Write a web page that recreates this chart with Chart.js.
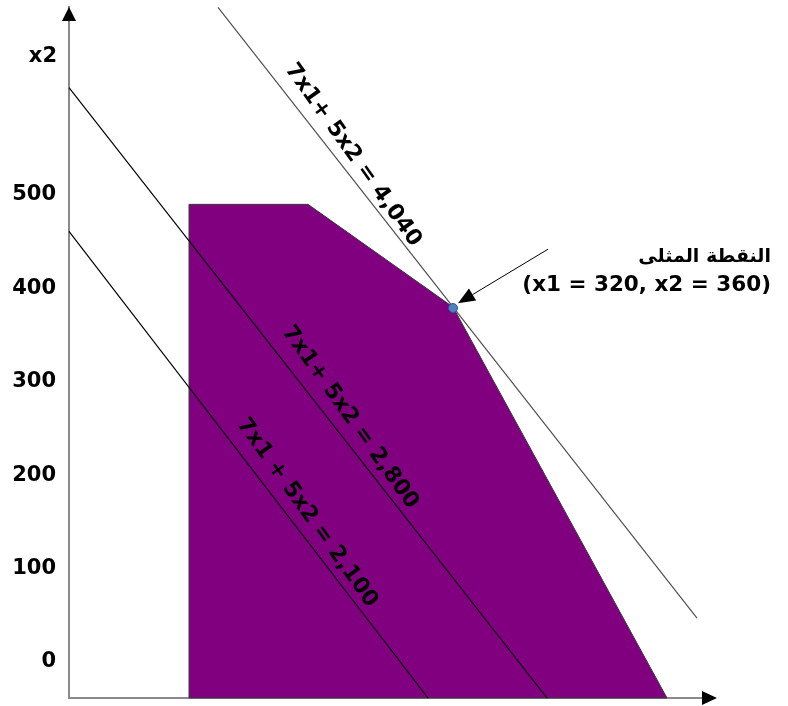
<!DOCTYPE html>
<html><head><meta charset="utf-8">
<script src="https://cdn.jsdelivr.net/npm/chart.js@4.4.1/dist/chart.umd.min.js"></script>
<style>html,body{margin:0;padding:0;background:#fff}#wrap{width:788px;height:706px;position:relative}</style>
</head><body><div id="wrap"><canvas id="c"></canvas></div>
<script>
// ---- data ----
const yTicks = [0, 100, 200, 300, 400, 500];
const regionX = [120, 120, 239, 384, 598, 120];
const regionY = [-38.5, 490, 490, 380, -38.5, -38.5];
const line2100X = [0, 359];
const line2100Y = [461, -38.5];
const line2800X = [0, 478];
const line2800Y = [615, -38.5];
const line4040X = [149, 628];
const line4040Y = [701, 47];
const optimumX = [384];
const optimumY = [379];
const lineLabels = ['7x1 + 5x2 = 2,100', '7x1+ 5x2 = 2,800', '7x1+ 5x2 = 4,040'];
const optimumLabel = ['النقطة المثلى', '(x1 = 320, x2 = 360)'];
const axisTitleY = 'x2';

const toPts = (xs, ys) => xs.map((x, i) => ({x: x, y: ys[i]}));

// annotation placement (data coordinates)
const labelAnchors = [{x: 238, y: 160}, {x: 281, y: 262}, {x: 284, y: 543}];
const labelAngleDeg = 54.5;
const arrowFrom = {x: 479, y: 442}, arrowTo = {x: 389, y: 384};
const optTextAnchor = {x: 702, y1: 434, y2: 403};
const titleAnchor = {x: -12, y: 648};

const FONT = 'bold 21px "DejaVu Sans"';
const LABEL_FONT = 'bold 22px "DejaVu Sans"';
const ARABIC_FONT = 'bold 19px "DejaVu Sans"';
const OPT_FONT = 'bold 21.5px "DejaVu Sans"';

const overlay = {
  id: 'overlay',
  afterDraw(chart) {
    const {ctx, chartArea: a, scales: {x, y}} = chart;
    ctx.save();
    // axis arrowheads
    ctx.fillStyle = '#000';
    ctx.beginPath();
    ctx.moveTo(a.left, a.top); ctx.lineTo(a.left - 7, a.top + 14); ctx.lineTo(a.left + 7, a.top + 14); ctx.closePath(); ctx.fill();
    ctx.beginPath();
    ctx.moveTo(a.right + 15, a.bottom); ctx.lineTo(a.right, a.bottom - 7); ctx.lineTo(a.right, a.bottom + 7); ctx.closePath(); ctx.fill();

    // axis title
    ctx.font = FONT; ctx.fillStyle = '#000';
    ctx.textAlign = 'right'; ctx.textBaseline = 'middle';
    ctx.fillText(axisTitleY, x.getPixelForValue(titleAnchor.x), y.getPixelForValue(titleAnchor.y));

    // rotated line labels
    ctx.font = LABEL_FONT;
    ctx.textAlign = 'center';
    lineLabels.forEach((t, i) => {
      const px = x.getPixelForValue(labelAnchors[i].x), py = y.getPixelForValue(labelAnchors[i].y);
      ctx.save(); ctx.translate(px, py); ctx.rotate(labelAngleDeg * Math.PI / 180);
      ctx.fillText(t, 0, 0); ctx.restore();
    });

    // annotation arrow
    const x0 = x.getPixelForValue(arrowFrom.x), y0 = y.getPixelForValue(arrowFrom.y);
    const x1 = x.getPixelForValue(arrowTo.x), y1 = y.getPixelForValue(arrowTo.y);
    const ang = Math.atan2(y1 - y0, x1 - x0), L = 17, W = 7;
    const bx = x1 - L * Math.cos(ang), by = y1 - L * Math.sin(ang);
    ctx.strokeStyle = '#000'; ctx.lineWidth = 1;
    ctx.beginPath(); ctx.moveTo(x0, y0); ctx.lineTo(bx, by); ctx.stroke();
    ctx.beginPath(); ctx.moveTo(x1, y1);
    ctx.lineTo(bx + W * Math.sin(ang), by - W * Math.cos(ang));
    ctx.lineTo(bx - W * Math.sin(ang), by + W * Math.cos(ang));
    ctx.closePath(); ctx.fill();

    // optimum text
    ctx.textAlign = 'right';
    ctx.font = ARABIC_FONT;
    ctx.fillText(optimumLabel[0], x.getPixelForValue(optTextAnchor.x), y.getPixelForValue(optTextAnchor.y1));
    ctx.font = OPT_FONT;
    ctx.fillText(optimumLabel[1], x.getPixelForValue(optTextAnchor.x), y.getPixelForValue(optTextAnchor.y2));
    ctx.restore();
  }
};

new Chart(document.getElementById('c'), {
  type: 'scatter',
  data: {
    datasets: [
      {data: toPts(optimumX, optimumY), pointRadius: 4.5, pointBackgroundColor: '#4F81BD', pointBorderColor: '#2F5597', pointBorderWidth: 1, order: 0},
      {data: toPts(line2100X, line2100Y), showLine: true, pointRadius: 0, borderColor: '#000', borderWidth: 1.2, order: 1},
      {data: toPts(line2800X, line2800Y), showLine: true, pointRadius: 0, borderColor: '#000', borderWidth: 1.2, order: 1},
      {data: toPts(line4040X, line4040Y), showLine: true, pointRadius: 0, borderColor: '#505050', borderWidth: 1.2, order: 1},
      {data: toPts(regionX, regionY), showLine: true, pointRadius: 0, borderColor: '#3a3a3a', borderWidth: 1, backgroundColor: '#800080', fill: 'shape', tension: 0, order: 10}
    ]
  },
  options: {
    responsive: true, maintainAspectRatio: false, animation: false,
    layout: {padding: {top: 7, right: 86, bottom: 0, left: 0}},
    plugins: {legend: {display: false}, tooltip: {enabled: false}},
    elements: {line: {tension: 0}},
    clip: false,
    scales: {
      x: {type: 'linear', min: 0, max: 633,
        grid: {display: false, drawTicks: false},
        ticks: {display: false},
        border: {display: true, color: '#8a8a8a', width: 2},
        afterFit(s) { s.height = 8; s.paddingLeft = 0; s.paddingRight = 0; }
      },
      y: {type: 'linear', min: -38.5, max: 701.3,
        grid: {display: false, drawTicks: false},
        border: {display: true, color: '#8a8a8a', width: 2},
        afterBuildTicks(s) { s.ticks = yTicks.map(v => ({value: v})); },
        ticks: {padding: 13, color: '#000', font: {family: 'DejaVu Sans', weight: 'bold', size: 21}},
        afterFit(s) { s.width = 69; s.paddingTop = 0; s.paddingBottom = 0; }
      }
    }
  },
  plugins: [overlay]
});
</script></body></html>
